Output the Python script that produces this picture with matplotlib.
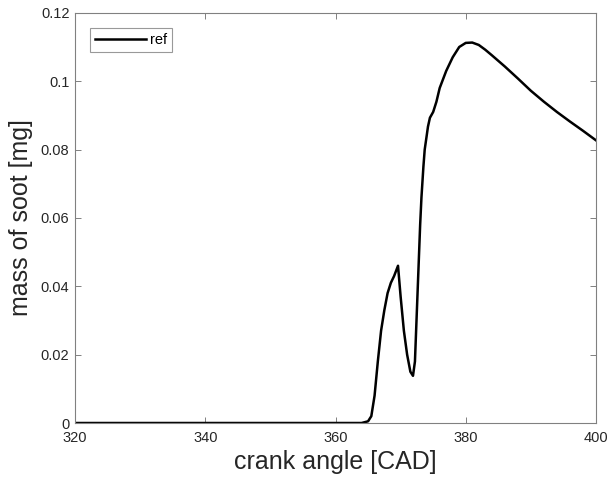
import matplotlib
matplotlib.use("Agg")
import matplotlib.pyplot as plt

plt.rcParams['font.family'] = ['Liberation Sans', 'DejaVu Sans']

# crank angle [CAD] and soot mass [mg]
cad = [320, 364, 365, 365.5, 366, 366.5, 367, 367.5, 368, 368.5, 369, 369.6,
       370, 370.5, 371, 371.5, 371.9, 372.2, 372.5, 372.7, 373.0, 373.2, 373.5,
       373.7, 374.0, 374.2, 374.5, 375, 375.5, 376, 377, 378, 379, 380, 381,
       382, 383, 384, 386, 388, 390, 392, 394, 396, 398, 400]
soot = [0, 0, 0.0005, 0.002, 0.008, 0.018, 0.027, 0.033, 0.038, 0.041, 0.043, 0.046,
        0.037, 0.027, 0.020, 0.015, 0.0138, 0.018, 0.033, 0.043, 0.058, 0.066, 0.075,
        0.080, 0.084, 0.0867, 0.0893, 0.091, 0.094, 0.098, 0.103, 0.107, 0.110, 0.1112, 0.1113,
        0.1106, 0.1092, 0.1076, 0.1043, 0.1008, 0.0972, 0.0940, 0.0910, 0.0882, 0.0855, 0.0827]

fig = plt.figure(figsize=(6.1, 4.82), dpi=100)
ax = fig.add_axes([0.123, 0.1224, 0.854, 0.851])

ax.plot(cad, soot, color='black', linewidth=1.8, label='ref')

ax.set_xlim(320, 400)
ax.set_ylim(0, 0.12)
ax.set_xticks([320, 340, 360, 380, 400])
ax.set_yticks([0, 0.02, 0.04, 0.06, 0.08, 0.1, 0.12])
ax.set_yticklabels(['0', '0.02', '0.04', '0.06', '0.08', '0.1', '0.12'])

ax.tick_params(direction='in', top=True, right=True, length=4, width=0.7,
               colors='#808080', labelcolor='#262626', labelsize=10.5)
ax.tick_params(axis='x', pad=6)
ax.tick_params(axis='y', pad=4)
for s in ax.spines.values():
    s.set_color('#808080')
    s.set_linewidth(0.8)

ax.set_xlabel('crank angle [CAD]', fontsize=18, color='#262626', labelpad=3)
ax.set_ylabel('mass of soot [mg]', fontsize=18, color='#262626', labelpad=6)

leg = ax.legend(loc='upper left', fontsize=10.5, frameon=True, fancybox=False,
                handlelength=3.5, handletextpad=0.25, borderpad=0.35,
                borderaxespad=0, bbox_to_anchor=(0.029, 0.963))
leg.get_frame().set_edgecolor('#808080')
leg.get_frame().set_linewidth(0.8)

fig.savefig('out.png', dpi=100)
